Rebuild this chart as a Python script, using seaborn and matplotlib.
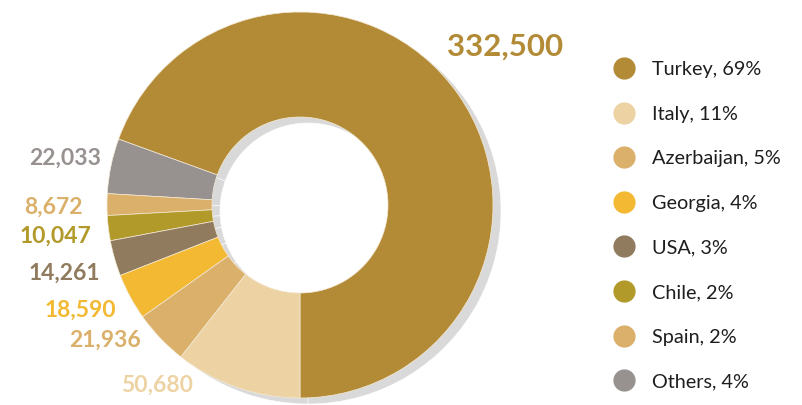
import numpy as np
import matplotlib
matplotlib.use("Agg")
import matplotlib.pyplot as plt
from matplotlib.lines import Line2D
import seaborn as sns

# data (legend order)
countries = ['Turkey', 'Italy', 'Azerbaijan', 'Georgia', 'USA', 'Chile', 'Spain', 'Others']
volumes = [332500, 50680, 21936, 18590, 14261, 10047, 8672, 22033]
shares = [69, 11, 5, 4, 3, 2, 2, 4]
colors = ['#B38B36', '#EDD3A4', '#DAB06A', '#F3B933', '#917B5E', '#B19A2A', '#DAB06A', '#979190']

sns.set_theme(style='white')
plt.rcParams['font.family'] = ['Lato', 'DejaVu Sans']

# pie drawn counter-clockwise from 6 o'clock: Turkey first, then the rest reversed
order = [0] + list(range(len(countries) - 1, 0, -1))
vals = [volumes[i] for i in order]
cols = [colors[i] for i in order]

fig = plt.figure(figsize=(8.03, 4.05), dpi=100)
ax = fig.add_axes([0, 0, 1, 1])

cx, cy = 300, 200
R = 193
ring = 105

# shadow ring
ax.pie(vals, colors=['#D9D9D9'] * len(vals), startangle=-90, counterclock=True,
       center=(cx + 8, cy - 6), radius=R, frame=True,
       wedgeprops=dict(width=ring, edgecolor='white', linewidth=0.4))
# main donut
wedges, _ = ax.pie(vals, colors=cols, startangle=-90, counterclock=True,
                   center=(cx, cy), radius=R, frame=True,
                   wedgeprops=dict(width=ring, edgecolor='#f4ead6', linewidth=0.5))

# value labels: (angle shift from wedge middle in degrees, distance from centre)
label_pos = {0: (2.6, 259), 7: (0.4, 240), 6: (0.6, 247), 5: (0.3, 247),
             4: (0.1, 245), 3: (-2.8, 243), 2: (-9.0, 237), 1: (-19.5, 230)}
for w, idx in zip(wedges, order):
    shift, rl = label_pos[idx]
    mid = np.deg2rad((w.theta1 + w.theta2) / 2 + shift)
    fs = 22.5 if idx == 0 else 16.5
    ax.text(cx + rl * np.cos(mid), cy + rl * np.sin(mid), f'{volumes[idx]:,}',
            color=colors[idx], fontsize=fs, fontweight='bold', ha='center', va='center')

ax.set_xlim(0, 803)
ax.set_ylim(0, 405)
ax.set_aspect('equal')
ax.axis('off')

handles = [Line2D([], [], marker='o', linestyle='none', markersize=15,
                  markerfacecolor=c, markeredgecolor=c) for c in colors]
labels = [f'{c}, {s}%' for c, s in zip(countries, shares)]
ax.legend(handles, labels, loc='upper left', bbox_to_anchor=(605 / 803, 1 - 53 / 405),
          frameon=False, fontsize=14.3, labelspacing=1.39, handletextpad=0.85,
          handlelength=1.1, borderaxespad=0, labelcolor='#1e1e1e')

fig.savefig('out.png', dpi=100)
